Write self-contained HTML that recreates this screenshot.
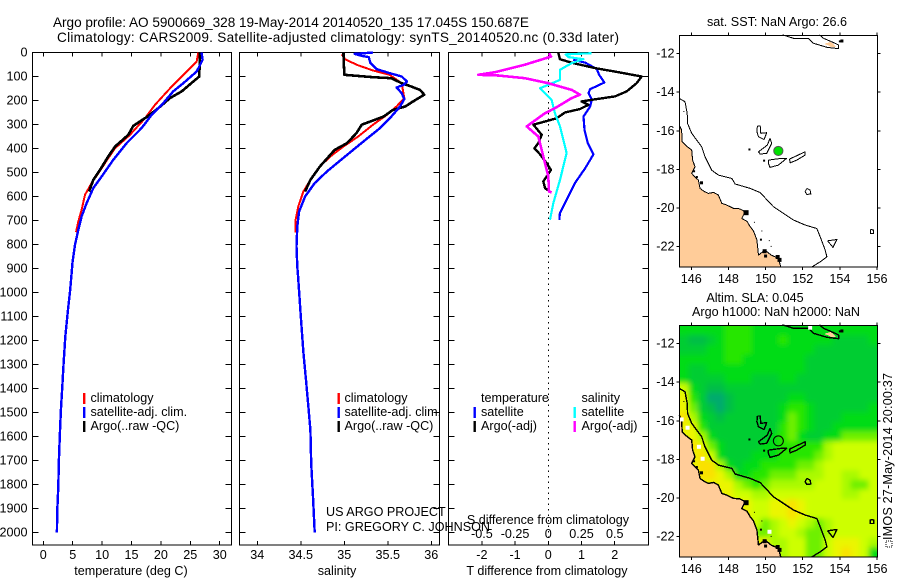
<!DOCTYPE html>
<html lang="en">
<head>
<meta charset="utf-8">
<title>Argo profile AO 5900669_328</title>
<style>
html,body{margin:0;padding:0;background:#fff;}
svg{display:block;}
text{font-family:"Liberation Sans",sans-serif;font-size:12.6px;fill:#000;}
.title{font-size:13.6px;}
</style>
</head>
<body>
<svg id="chart" xmlns="http://www.w3.org/2000/svg" width="900" height="580" viewBox="0 0 900 580">
<defs>
<filter id="heat-blur" x="-5%" y="-5%" width="110%" height="110%"><feGaussianBlur stdDeviation="2.6"/></filter>
<clipPath id="heat-clip"><rect x="679.5" y="325.5" width="198" height="231.5"/></clipPath>
</defs>
<rect x="0" y="0" width="900" height="580" fill="#fff"/>
<text class="title" x="53" y="27" textLength="476" lengthAdjust="spacing">Argo profile: AO 5900669_328 19-May-2014 20140520_135 17.045S 150.687E</text>
<text class="title" x="57" y="42" textLength="562" lengthAdjust="spacing">Climatology: CARS2009. Satellite-adjusted climatology: synTS_20140520.nc (0.33d later)</text>
<text x="131" y="575" text-anchor="middle">temperature (deg C)</text>
<text x="337" y="575" text-anchor="middle">salinity</text>
<text x="548" y="524" text-anchor="middle">S difference from climatology</text>
<text x="547" y="575" text-anchor="middle">T difference from climatology</text>
<text x="326" y="516">US ARGO PROJECT</text>
<text x="326" y="531">PI: GREGORY C. JOHNSON</text>
<text x="777" y="26" text-anchor="middle">sat. SST: NaN Argo: 26.6</text>
<text x="755" y="302" text-anchor="middle">Altim. SLA: 0.045</text>
<text x="776" y="316" text-anchor="middle">Argo h1000: NaN h2000: NaN</text>
<text transform="translate(892,540) rotate(-90)" textLength="167" lengthAdjust="spacing">IMOS 27-May-2014 20:00:37</text>
<rect x="886" y="541" width="6" height="6" fill="none" stroke="#000" stroke-width="1" stroke-dasharray="1 1"/>
</svg>
<script>
/* ---------- depth axis ---------- */
var depthTicks = [0,100,200,300,400,500,600,700,800,900,1000,1100,1200,1300,1400,1500,1600,1700,1800,1900,2000];

/* ---------- temperature panel ---------- */
var tempTicks = [0,5,10,15,20,25,30];
var climTempDepth = [0,37,79,135,218,274,343,399,440,503,544,593,656,704,749];
var climTemp = [26.36,26.08,24.38,22.1,19.0,17.29,14.74,12.19,11.05,9.35,8.22,7.09,6.52,5.95,5.56];
var satTempDepth = [0,31,79,128,162,211,260,315,378,447,517,565,628,683,739,801,871,940,996,1087,1184,1295,1392,1489,1587,1698,1809,1906,2000];
var satTemp = [26.93,27.1,26.08,23.81,22.1,20.41,18.42,16.72,14.17,11.9,9.92,8.5,7.37,6.52,5.95,5.39,4.99,4.75,4.54,4.14,3.74,3.46,3.23,3.0,2.83,2.66,2.55,2.38,2.32];
var argoTempDepth = [0,100,121,162,190,232,269,306,343,392,433,489,531,579];
var argoTemp = [26.64,26.53,25.51,23.53,21.54,19.56,17.57,15.31,14.46,12.19,11.05,9.64,8.5,7.77];

/* ---------- salinity panel ---------- */
var salTicks = [34,34.5,35,35.5,36];
var climSalDepth = [8,28,51,75,93,128,190,225,260,301,350,392,433,475,531,579,642,697,749];
var climSal = [34.97,35.01,35.14,35.33,35.52,35.66,35.69,35.6,35.49,35.33,35.16,34.99,34.84,34.72,34.61,34.53,34.47,34.44,34.44];
var satSalDepth = [0,6,14,19,44,69,86,100,121,135,146,169,194,225,267,315,371,433,496,544,600,662,725,808,892,940,1100,1250,1365,1448,1573,1712,1851,2000];
var satSal = [35.33,35.12,35.2,35.28,35.3,35.37,35.52,35.66,35.72,35.68,35.6,35.66,35.69,35.64,35.54,35.41,35.22,35.01,34.8,34.66,34.55,34.48,34.46,34.45,34.46,34.47,34.5,34.53,34.56,34.58,34.61,34.62,34.64,34.66];
var argoSalDepth = [0,93,103,107,128,139,156,176,204,225,239,267,301,336,378,406,475,531,579];
var argoSal = [34.99,35.0,35.33,35.54,35.66,35.75,35.87,35.92,35.79,35.7,35.56,35.45,35.2,35.14,35.03,34.89,34.72,34.61,34.55];

/* ---------- difference panel ---------- */
var tDiffTicks = [-2,-1,0,1,2];
var sDiffTicks = [-0.5,-0.25,0,0.25,0.5];
var sDiffTickLabels = ["-0.5","-0.25","0","0.25","0.5"];
var satTDiffDepth = [31,42,69,93,125,153,169,197,225,267,322,378,424,482,544,614,669,697];
var satTDiff = [0.75,1.11,1.46,1.53,1.69,1.26,1.21,1.31,1.26,1.06,1.09,1.19,1.36,1.11,0.8,0.55,0.35,0.33];
var argoTDiffDepth = [0,28,44,65,82,100,128,162,183,197,204,218,236,250,274,301,343,378,399,424,461,489,537,565,583];
var argoTDiff = [0.3,0.35,0.75,1.41,2.11,2.81,2.66,2.36,2.01,1.31,1.0,1.21,0.95,0.5,0.25,-0.45,-0.2,-0.3,-0.42,-0.25,-0.05,0.08,-0.15,-0.1,0.08];
var satSDiffDepth = [3,8,19,28,44,72,114,149,197,253,308,419,531,628,697];
var satSDiff = [0.327,0.131,0.151,0.264,0.176,0.088,0.088,-0.063,0.025,0.05,0.088,0.138,0.088,0.038,0.013];
var argoSDiffDepth = [3,17,51,82,93,96,107,128,142,156,176,190,232,253,308,350,406,461,517,579,583];
var argoSDiff = [0.005,0.02,-0.176,-0.402,-0.528,-0.377,-0.176,0,0.088,0.176,0.239,0.176,0.05,-0.025,-0.163,-0.075,-0.05,-0.025,0,0.005,0.025];

/* ---------- maps ---------- */
var lonTicks = [146,148,150,152,154,156];
var latTicks = [-12,-14,-16,-18,-20,-22];
var argoLon = 150.687;
var argoLat = -17.045;
var landLon = [145.35,145.48,145.51,145.75,146.02,146.07,146.2,146.02,146.2,146.38,146.47,146.7,146.92,147.2,147.46,147.64,147.9,148.27,148.6,148.9,148.72,149.0,149.17,149.35,149.53,149.62,149.97,150.3,150.69,150.82,145.35];
var landLat = [-15.7,-15.96,-16.57,-16.8,-17.0,-17.52,-17.87,-18.21,-18.4,-18.56,-18.99,-19.15,-19.25,-19.2,-19.34,-19.77,-19.85,-20.03,-20.05,-20.2,-20.55,-20.7,-20.98,-21.2,-21.67,-22.45,-22.19,-22.45,-22.62,-23.07,-23.07];
var shelfLon = [145.35,145.66,145.78,145.8,146.02,146.56,146.74,147.1,147.46,148.18,148.36,149.17,149.71,150.42,151.5,152.13,152.76,152.94,153.21,153.3,152.94,152.49];
var shelfLat = [-14.32,-14.49,-15.1,-15.62,-16.13,-16.83,-17.35,-18.04,-18.3,-18.47,-18.76,-18.99,-19.21,-19.94,-20.63,-20.89,-21.07,-21.5,-22.19,-22.54,-22.8,-23.07];
var reefALon = [149.56,149.71,149.74,150.06,149.92,149.62,149.53,149.56];
var reefALat = [-15.75,-15.75,-16.13,-16.10,-16.45,-16.31,-16.05,-15.75];
var reefBLon = [150.24,150.33,150.06,149.71,149.62,150.10,150.24];
var reefBLat = [-16.39,-16.65,-17.17,-17.21,-17.09,-16.74,-16.39];
var reefCLon = [150.15,150.87,151.14,150.69,150.24,150.15,150.15];
var reefCLat = [-17.52,-17.43,-17.43,-17.78,-17.90,-17.69,-17.52];
var reefDLon = [151.29,152.13,152.13,151.68,151.32,151.29];
var reefDLat = [-17.47,-17.09,-17.26,-17.52,-17.66,-17.47];
var reefELon = [152.22,152.40,152.44,152.22,152.13,152.22];
var reefELat = [-18.99,-19.08,-19.28,-19.30,-19.16,-18.99];
var reefFLon = [153.34,153.84,153.63,153.34];
var reefFLat = [-21.71,-21.64,-22.05,-21.71];
var reefGLon = [155.64,155.82,155.82,155.64,155.64];
var reefGLat = [-21.12,-21.15,-21.33,-21.33,-21.12];
var pngLon = [150.91,151.5,152.31,152.58,153.3,153.93,153.93,153.6,153.12,152.9];
var pngLat = [-11.02,-11.2,-11.2,-11.46,-11.67,-11.74,-11.55,-11.4,-11.2,-11.02];
var pngLandLon = [153.2,153.5,153.75,153.5];
var pngLandLat = [-11.5,-11.42,-11.62,-11.62];
var blackSpotLon = [146.15,146.3,146.55,148.95,149.95,150.0,150.65,150.75,154.11,154.0,149.13,149.92,149.4,149.75,150.2,150.3,149.8,145.6];
var blackSpotLat = [-18.1,-18.4,-18.7,-20.25,-22.25,-22.5,-22.55,-22.7,-11.34,-11.36,-16.97,-17.55,-20.75,-21.65,-21.7,-22.0,-21.2,-15.0];
var blackSpotSize = [2,2,3,5,4,3,4,4,3,2,2,2,1,2,1,1,1,1];
var missingLon = [145.8,146.41,146.61,150.21,152.4,145.48];
var missingLat = [-16.36,-17.35,-17.97,-21.76,-11.17,-15.93];
/* SLA colour level per cell, rows north to south */
var slaRow00 = [3,3,3,3,3,4,4,4,3,3,3,3,3,3,3,3,3,3,3,3,3,3];
var slaRow01 = [2,1,1,2,3,4,4,4,3,3,3,4,3,3,3,3,3,2,2,2,2,3];
var slaRow02 = [2,2,2,3,3,4,4,4,3,3,3,3,3,3,3,2,2,2,2,2,2,2];
var slaRow03 = [3,3,3,3,3,4,4,3,3,3,3,3,3,3,2,2,2,2,2,2,2,2];
var slaRow04 = [3,2,2,3,3,3,3,3,3,3,3,3,3,3,2,2,2,2,2,2,2,2];
var slaRow05 = [3,2,2,2,2,3,3,3,2,2,2,3,3,2,2,2,2,2,2,2,2,2];
var slaRow06 = [7,3,2,1,1,2,2,2,2,2,2,2,2,2,2,2,2,2,2,2,2,2];
var slaRow07 = [8,4,2,0,0,1,2,2,2,2,2,2,3,3,2,2,2,2,2,2,2,2];
var slaRow08 = [8,5,2,1,0,1,2,2,2,2,2,3,4,4,3,2,2,2,2,2,2,3];
var slaRow09 = [9,6,3,2,1,2,2,2,2,2,2,3,5,4,3,2,2,2,3,3,3,3];
var slaRow10 = [8,8,4,2,2,2,2,2,2,2,2,4,5,4,3,2,2,3,3,3,3,3];
var slaRow11 = [8,8,6,3,2,2,2,2,2,2,3,4,5,3,2,2,3,3,5,5,5,5];
var slaRow12 = [8,9,8,5,3,2,2,2,2,3,3,4,4,4,4,4,6,7,7,7,7,7];
var slaRow13 = [8,8,9,7,3,2,2,2,3,3,3,4,4,4,4,5,6,7,7,7,7,7];
var slaRow14 = [8,8,9,9,6,3,2,3,3,4,4,4,4,5,5,6,7,7,7,7,7,7];
var slaRow15 = [8,8,9,9,8,6,3,3,4,4,5,5,5,6,6,6,7,7,6,6,7,7];
var slaRow16 = [8,8,8,8,8,8,6,5,4,5,6,6,6,6,6,7,7,7,6,5,5,7];
var slaRow17 = [8,8,8,8,8,8,7,7,6,6,7,7,7,7,7,7,7,7,6,6,7,7];
var slaRow18 = [8,8,8,8,8,8,8,8,7,7,8,8,9,8,7,7,7,7,7,7,7,7];
var slaRow19 = [8,8,8,8,8,8,8,8,7,7,8,8,9,8,7,7,7,7,7,7,7,7];
var slaRow20 = [8,8,8,8,8,8,8,7,7,5,6,7,8,7,6,5,6,7,7,7,7,7];
var slaRow21 = [8,8,8,8,8,8,8,8,5,5,6,7,7,6,5,5,6,7,7,7,7,7];
var slaRow22 = [8,8,8,8,8,8,8,8,8,8,6,6,7,7,5,5,7,8,8,8,7,6];
var slaRow23 = [8,8,8,8,8,8,8,8,8,8,7,6,7,7,5,5,7,8,9,8,7,3];
var slaRows = [slaRow00,slaRow01,slaRow02,slaRow03,slaRow04,slaRow05,slaRow06,slaRow07,slaRow08,slaRow09,slaRow10,slaRow11,slaRow12,slaRow13,slaRow14,slaRow15,slaRow16,slaRow17,slaRow18,slaRow19,slaRow20,slaRow21,slaRow22,slaRow23];
var slaColors = ["#00aa6e","#00be46","#00cd32","#00dc14","#28e600","#6ef000","#aafa00","#cdff00","#ebf500","#fae100"];

/* ---------- helpers ---------- */
var NS = "http://www.w3.org/2000/svg";
var svg = document.getElementById("chart");
function el(tag, parent){
  var n = document.createElementNS(NS, tag);
  (parent || svg).appendChild(n);
  return n;
}
function group(name){
  var g = el("g");
  
  
  return g;
}
function line(parent, name, x1, y1, x2, y2, w){
  var n = el("line", parent);
  
  
  n.setAttribute("x1", x1); n.setAttribute("y1", y1);
  n.setAttribute("x2", x2); n.setAttribute("y2", y2);
  n.setAttribute("stroke", "#000");
  n.setAttribute("stroke-width", w || 1);
  n.setAttribute("shape-rendering", "crispEdges");
  return n;
}
function label(parent, name, x, y, str, anchor){
  var n = el("text", parent);
  
  
  n.setAttribute("x", x); n.setAttribute("y", y);
  n.setAttribute("text-anchor", anchor || "middle");
  n.textContent = str;
  return n;
}
function frame(parent, name, x, y, w, h){
  var n = el("rect", parent);
  
  
  n.setAttribute("x", x); n.setAttribute("y", y);
  n.setAttribute("width", w); n.setAttribute("height", h);
  n.setAttribute("fill", "none");
  n.setAttribute("stroke", "#000");
  n.setAttribute("stroke-width", 1.4);
  n.setAttribute("shape-rendering", "crispEdges");
  return n;
}
function series(parent, name, xs, ds, sx, sy, color, width){
  var pts = [];
  for (var i = 0; i < xs.length; i++) pts.push(sx(xs[i]).toFixed(1) + "," + sy(ds[i]).toFixed(1));
  var n = el("polyline", parent);
  
  
  n.setAttribute("points", pts.join(" "));
  n.setAttribute("fill", "none");
  n.setAttribute("stroke", color);
  n.setAttribute("stroke-width", width);
  n.setAttribute("stroke-linejoin", "round");
  n.setAttribute("shape-rendering", "crispEdges");
  return n;
}
function legendSwatch(parent, name, x, y, color){
  var n = el("rect", parent);
  
  
  n.setAttribute("x", x); n.setAttribute("y", y - 5);
  n.setAttribute("width", 2.4); n.setAttribute("height", 11);
  n.setAttribute("fill", color);
  return n;
}

/* ---------- depth profile panels ---------- */
var top0 = 52.5, bottom0 = 545;
function depthY(d){ return 52.5 + d * 0.24; }
function tempX(t){ return 43.3 + t * 5.88; }
function salX(s){ return 257.3 + (s - 34) * 87; }
function tDiffX(t){ return 548.3 + t * 33.2; }
function sDiffX(s){ return 548.3 + s * 132.8; }

function panelAxes(name, left, right, xTicks, xScale, showDepthLabels){
  var g = group(name);
  frame(g, name + "-frame", left, top0, right - left, bottom0 - top0);
  depthTicks.forEach(function(d){
    line(g, "depth-tick-left", left, depthY(d), left + 6, depthY(d));
    line(g, "depth-tick-right", right - 6, depthY(d), right, depthY(d));
    if (showDepthLabels) label(g, "depth-tick-label", left - 5, depthY(d) + 4, String(d), "end");
  });
  xTicks.forEach(function(v){
    line(g, "x-tick-top", xScale(v), top0, xScale(v), top0 + 4);
    line(g, "x-tick-bottom", xScale(v), bottom0 - 4, xScale(v), bottom0);
  });
  return g;
}

var p1 = panelAxes("temperature-panel", 32.5, 231.5, tempTicks, tempX, true);
tempTicks.forEach(function(v){ label(p1, "temperature-tick-label", tempX(v), 559, String(v)); });
series(p1, "temperature-climatology-line", climTemp, climTempDepth, tempX, depthY, "#ff0000", 2);
series(p1, "temperature-argo-line", argoTemp, argoTempDepth, tempX, depthY, "#000000", 2.6);
series(p1, "temperature-satellite-line", satTemp, satTempDepth, tempX, depthY, "#0000ff", 2.4);

var p2 = panelAxes("salinity-panel", 239.5, 439.5, salTicks, salX, false);
salTicks.forEach(function(v){ label(p2, "salinity-tick-label", salX(v), 559, String(v)); });
series(p2, "salinity-climatology-line", climSal, climSalDepth, salX, depthY, "#ff0000", 2);
series(p2, "salinity-argo-line", argoSal, argoSalDepth, salX, depthY, "#000000", 2.6);
series(p2, "salinity-satellite-line", satSal, satSalDepth, salX, depthY, "#0000ff", 2.4);

var p3 = panelAxes("difference-panel", 448.5, 648.5, tDiffTicks, tDiffX, false);
var zero = line(p3, "zero-difference-line", tDiffX(0), top0, tDiffX(0), bottom0, 1);
zero.setAttribute("stroke-dasharray", "1.5 4");
tDiffTicks.forEach(function(v){ label(p3, "t-difference-tick-label", tDiffX(v), 559, String(v)); });
sDiffTicks.forEach(function(v, i){ label(p3, "s-difference-tick-label", sDiffX(v), 538, sDiffTickLabels[i]); });
series(p3, "t-difference-satellite-line", satTDiff, satTDiffDepth, tDiffX, depthY, "#0000ff", 2.2);
series(p3, "t-difference-argo-line", argoTDiff, argoTDiffDepth, tDiffX, depthY, "#000000", 2.4);
series(p3, "s-difference-satellite-line", satSDiff, satSDiffDepth, sDiffX, depthY, "#00ffff", 2.2);
series(p3, "s-difference-argo-line", argoSDiff, argoSDiffDepth, sDiffX, depthY, "#ff00ff", 2.6);

/* ---------- legends ---------- */
function profileLegend(name, swatchX, textX){
  var g = group(name);
  var rowY = [398, 412, 426];
  var rowC = ["#ff0000", "#0000ff", "#000000"];
  var rowT = ["climatology", "satellite-adj. clim.", "Argo(..raw -QC)"];
  rowY.forEach(function(y, i){
    legendSwatch(g, "legend-swatch", swatchX, y, rowC[i]);
    label(g, "legend-entry", textX, y + 4, rowT[i], "start");
  });
}
profileLegend("temperature-legend", 83, 90.5);
profileLegend("salinity-legend", 337.5, 344.5);
var lg3 = group("difference-legend");
label(lg3, "legend-heading-temperature", 481, 402, "temperature", "start");
label(lg3, "legend-heading-salinity", 581.5, 402, "salinity", "start");
legendSwatch(lg3, "legend-swatch-t-satellite", 473.5, 412, "#0000ff");
label(lg3, "legend-entry-t-satellite", 481, 416, "satellite", "start");
legendSwatch(lg3, "legend-swatch-t-argo", 473.5, 426, "#000000");
label(lg3, "legend-entry-t-argo", 481, 430, "Argo(-adj)", "start");
legendSwatch(lg3, "legend-swatch-s-satellite", 573.5, 412, "#00ffff");
label(lg3, "legend-entry-s-satellite", 581.5, 416, "satellite", "start");
legendSwatch(lg3, "legend-swatch-s-argo", 573.5, 426, "#ff00ff");
label(lg3, "legend-entry-s-argo", 581.5, 430, "Argo(-adj)", "start");

/* ---------- maps ---------- */
var mapLeft = 679.5, mapRight = 877.5;
function lonX(lon){ return 691.3 + (lon - 146) * 18.57; }
function drawMap(name, mapTop, mapBottom, lat12Y, outlineWidth, withHeat){
  var g = group(name);
  function latY(lat){ return lat12Y + (-12 - lat) * 19.27; }
  if (withHeat) {
    var clipG = el("g", g);
    
    
    clipG.setAttribute("clip-path", "url(#heat-clip)");
    var heatG = el("g", clipG);
    
    
    heatG.setAttribute("filter", "url(#heat-blur)");
    var nRows = slaRows.length, nCols = slaRows[0].length;
    var cw = (mapRight - mapLeft) / nCols;
    var ch = (mapBottom - mapTop) / nRows;
    for (var r = -3; r < nRows + 3; r++) {
      for (var c = -3; c < nCols + 3; c++) {
        var rr = Math.max(0, Math.min(nRows - 1, r));
        var cc = Math.max(0, Math.min(nCols - 1, c));
        var cell = el("rect", heatG);
        
        
        cell.setAttribute("x", mapLeft + c * cw);
        cell.setAttribute("y", mapTop + r * ch);
        cell.setAttribute("width", cw + 0.5);
        cell.setAttribute("height", ch + 0.5);
        cell.setAttribute("fill", slaColors[slaRows[rr][cc]]);
      }
    }
  }
  var land = series(g, "land-polygon", landLon, landLat, lonX, latY, "#000", outlineWidth);
  land.setAttribute("fill", "#ffcc99");
  series(g, "shelf-contour", shelfLon, shelfLat, lonX, latY, "#000", outlineWidth);
  series(g, "reef-a", reefALon, reefALat, lonX, latY, "#000", outlineWidth);
  series(g, "reef-b", reefBLon, reefBLat, lonX, latY, "#000", outlineWidth);
  series(g, "reef-c", reefCLon, reefCLat, lonX, latY, "#000", outlineWidth);
  series(g, "reef-d", reefDLon, reefDLat, lonX, latY, "#000", outlineWidth);
  series(g, "reef-e", reefELon, reefELat, lonX, latY, "#000", outlineWidth);
  series(g, "reef-f", reefFLon, reefFLat, lonX, latY, "#000", outlineWidth);
  series(g, "reef-g", reefGLon, reefGLat, lonX, latY, "#000", outlineWidth);
  series(g, "png-coast", pngLon, pngLat, lonX, latY, "#000", outlineWidth);
  var pl = series(g, "png-land", pngLandLon, pngLandLat, lonX, latY, "#ffcc99", 1);
  pl.setAttribute("fill", "#ffcc99");
  blackSpotLon.forEach(function(lon, i){
    var s = el("rect", g);
    
    
    s.setAttribute("x", lonX(lon) - blackSpotSize[i] / 2);
    s.setAttribute("y", latY(blackSpotLat[i]) - blackSpotSize[i] / 2);
    s.setAttribute("width", blackSpotSize[i]);
    s.setAttribute("height", blackSpotSize[i]);
    s.setAttribute("fill", "#000");
  });
  if (withHeat) {
    missingLon.forEach(function(lon, i){
      var m = el("rect", g);
      
      
      m.setAttribute("x", lonX(lon) - 2);
      m.setAttribute("y", latY(missingLat[i]) - 2);
      m.setAttribute("width", 4);
      m.setAttribute("height", 4);
      m.setAttribute("fill", "#fff");
    });
  }
  var dot = el("circle", g);
  
  
  dot.setAttribute("cx", lonX(argoLon));
  dot.setAttribute("cy", latY(argoLat));
  dot.setAttribute("r", withHeat ? 5 : 4.6);
  dot.setAttribute("fill", withHeat ? "none" : "#00e000");
  dot.setAttribute("stroke", withHeat ? "#000" : "#555");
  dot.setAttribute("stroke-width", 1);
  frame(g, name + "-frame", mapLeft, mapTop, mapRight - mapLeft, mapBottom - mapTop);
  lonTicks.forEach(function(v){
    line(g, "lon-tick-top", lonX(v), mapTop - 3, lonX(v), mapTop);
    line(g, "lon-tick-bottom", lonX(v), mapBottom, lonX(v), mapBottom + 3);
    label(g, "lon-tick-label", lonX(v), mapBottom + 16, String(v));
  });
  latTicks.forEach(function(v){
    line(g, "lat-tick-left", mapLeft - 3, latY(v), mapLeft, latY(v));
    line(g, "lat-tick-right", mapRight, latY(v), mapRight + 3, latY(v));
    label(g, "lat-tick-label", mapLeft - 5, latY(v) + 4, String(v), "end");
  });
}
drawMap("sst-map", 35.5, 267, 53.7, 1, false);
drawMap("sla-map", 325.5, 557, 343.7, 1.4, true);
</script>
</body>
</html>
